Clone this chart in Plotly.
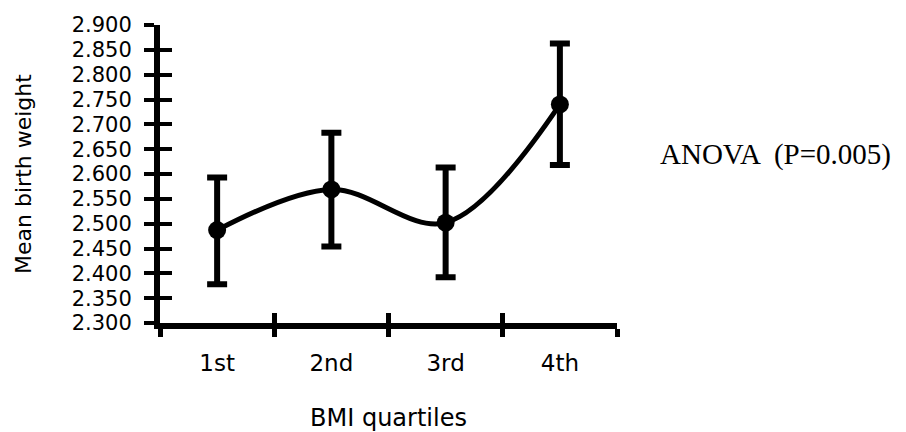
import plotly.graph_objects as go

categories = ["1st", "2nd", "3rd", "4th"]
means = [2.487, 2.569, 2.502, 2.740]
upper = [2.593, 2.683, 2.613, 2.863]
lower = [2.378, 2.454, 2.392, 2.618]
y_range = [2.3, 2.9]
y_step = 0.05
annotation_text = "ANOVA  (P=0.005)"

err_plus = [u - m for u, m in zip(upper, means)]
err_minus = [m - l for m, l in zip(means, lower)]

sans = "DejaVu Sans, Liberation Sans, Arial"

fig = go.Figure()
fig.add_trace(go.Scatter(
    x=categories, y=means,
    mode="lines+markers",
    line=dict(color="black", width=5, shape="spline", smoothing=1.0),
    marker=dict(color="black", size=18),
    error_y=dict(type="data", symmetric=False, array=err_plus, arrayminus=err_minus,
                 color="black", thickness=6, width=10),
    showlegend=False, hoverinfo="skip",
))
# invisible trace to anchor the overlay axes (for crossing ticks)
fig.add_trace(go.Scatter(
    x=list(range(len(categories))), y=means, xaxis="x2", yaxis="y2",
    mode="markers", marker=dict(opacity=0), showlegend=False, hoverinfo="skip",
))

ytickvals = [round(y_range[0] + i * y_step, 3) for i in range(int(round((y_range[1] - y_range[0]) / y_step)) + 1)]
boundaries = [i - 0.5 for i in range(len(categories) + 1)]

fig.update_layout(
    width=906, height=432,
    margin=dict(l=160, r=289, t=25, b=109),
    paper_bgcolor="white", plot_bgcolor="white",
    xaxis=dict(
        type="category", range=[-0.5, len(categories) - 0.5], automargin=False,
        tickson="boundaries", ticks="outside", ticklen=8, tickwidth=5, tickcolor="black",
        showline=True, linewidth=6, linecolor="black", showgrid=False, zeroline=False,
        tickfont=dict(family=sans, size=23, color="black"), ticklabelstandoff=14,
        title=dict(text="BMI quartiles", font=dict(family=sans, size=24, color="black"), standoff=41),
    ),
    yaxis=dict(
        range=y_range, tickvals=ytickvals, ticktext=[f"{v:.3f}" for v in ytickvals],
        automargin=False,
        ticks="outside", ticklen=10, tickwidth=4, tickcolor="black",
        showline=True, linewidth=6, linecolor="black", showgrid=False, zeroline=False,
        tickfont=dict(family=sans, size=21, color="black"), ticklabelstandoff=8,
        title=dict(text="Mean birth weight", font=dict(family=sans, size=22, color="black"), standoff=36),
    ),
    xaxis2=dict(
        overlaying="x", anchor="y2", range=[-0.5, len(categories) - 0.5], automargin=False,
        tickvals=boundaries, ticks="inside", ticklen=10, tickwidth=5, tickcolor="black",
        showticklabels=False, showline=False, showgrid=False, zeroline=False, side="bottom",
    ),
    yaxis2=dict(
        overlaying="y", anchor="x2", range=y_range, tickvals=ytickvals, automargin=False,
        ticks="inside", ticklen=12, tickwidth=4, tickcolor="black",
        showticklabels=False, showline=False, showgrid=False, zeroline=False, side="left",
    ),
    annotations=[dict(
        text=annotation_text, xref="paper", yref="y", x=1.0, y=2.64,
        xshift=41, xanchor="left", yanchor="middle", showarrow=False,
        font=dict(family="Liberation Serif, Times New Roman, serif", size=29, color="black"),
    )],
)

fig.write_html("out.html")
